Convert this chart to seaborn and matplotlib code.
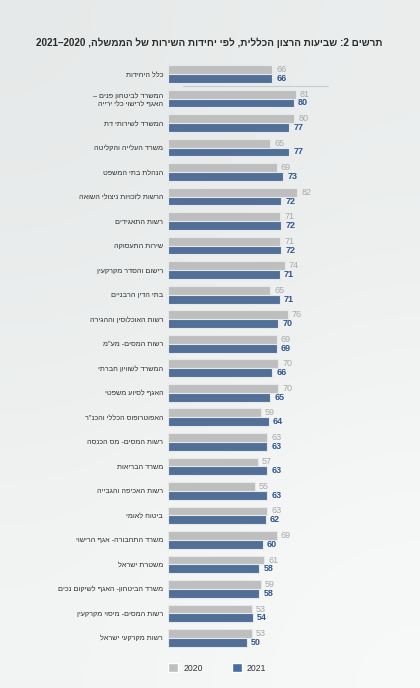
import re
import numpy as np
import seaborn as sns
import matplotlib.pyplot as plt
import pandas as pd
from matplotlib.patches import Patch
from matplotlib.colors import LinearSegmentedColormap

# Data
units = [
    "כלל היחידות",
    "המשרד לביטחון פנים –\nהאגף לרישוי כלי ירייה",
    "המשרד לשירותי דת",
    "משרד העלייה והקליטה",
    "הנהלת בתי המשפט",
    "הרשות לזכויות ניצולי השואה",
    "רשות התאגידים",
    "שירות התעסוקה",
    "רישום והסדר מקרקעין",
    "בתי הדין הרבניים",
    "רשות האוכלוסין וההגירה",
    "רשות המסים- מע\"מ",
    "המשרד לשוויון חברתי",
    "האגף לסיוע משפטי",
    "האפוטרופוס הכללי והכנ\"ר",
    "רשות המסים- מס הכנסה",
    "משרד הבריאות",
    "רשות האכיפה והגבייה",
    "ביטוח לאומי",
    "משרד התחבורה- אגף הרישוי",
    "משטרת ישראל",
    "משרד הביטחון- האגף לשיקום נכים",
    "רשות המסים- מיסוי מקרקעין",
    "רשות מקרקעי ישראל",
]
score_2020 = [66, 81, 80, 65, 69, 82, 71, 71, 74, 65, 76, 69, 70, 70, 59, 63, 57, 55, 63, 69, 61, 59, 53, 53]
score_2021 = [66, 80, 77, 77, 73, 72, 72, 72, 71, 71, 70, 69, 66, 65, 64, 63, 63, 63, 62, 60, 58, 58, 54, 50]
years = ["2020", "2021"]
title = "תרשים 2: שביעות הרצון הכללית, לפי יחידות השירות של הממשלה, 2020–2021"


def rtl(s):
    # matplotlib has no bidi support: flip each line, keep numbers in order
    out = []
    for line in s.split("\n"):
        r = line[::-1]
        out.append(re.sub(r"\d+", lambda m: m.group(0)[::-1], r))
    return "\n".join(out)


labels = [rtl(u) for u in units]
df = pd.DataFrame({
    "unit": labels * 2,
    "year": [years[0]] * len(units) + [years[1]] * len(units),
    "score": score_2020 + score_2021,
})

gray = "#bebebe"
blue = "#466da4"
bg = "#eef0f0"

sns.set_style("white")
plt.rcParams["font.family"] = ["Liberation Sans", "DejaVu Sans"]

fig = plt.figure(figsize=(4.2, 6.88), dpi=100, facecolor=bg)

# soft background gradient, darker at the top
bgax = fig.add_axes([0, 0, 1, 1], zorder=0)
bg_cmap = LinearSegmentedColormap.from_list("bg", ["#e6e9e9", "#eef0f0", "#f8f9f9"])
bgax.imshow(np.array([[0.0, 0.3], [0.75, 1.0]]), cmap=bg_cmap, vmin=0, vmax=1,
            interpolation="bicubic", aspect="auto", extent=[0, 1, 0, 1])
bgax.set_axis_off()

ax = fig.add_axes([0.4, 1 - 650.25 / 688, 0.55, (650.25 - 61.75) / 688], zorder=1)
ax.patch.set_alpha(0)

sns.barplot(data=df, y="unit", x="score", hue="year", order=labels,
            palette=[gray, blue], orient="h", width=0.72, ax=ax,
            edgecolor="#e6e9ea", linewidth=0.8, legend=False)

ax.bar_label(ax.containers[0], padding=3, fontsize=6.5, color="#a8a8a8")
ax.bar_label(ax.containers[1], padding=3, fontsize=6.5, color="#2f5690", fontweight="bold")

ax.set_xlim(0, 231 / 1.576)
ax.set_ylim(len(units) - 0.5, -0.5)
ax.set_xlabel("")
ax.set_ylabel("")
ax.set_xticks([])
ax.tick_params(axis="y", length=0, pad=3.5, labelsize=5.2, labelcolor="#2e2e2e")
for t in ax.get_yticklabels():
    t.set_multialignment("right")
sns.despine(ax=ax, left=True, bottom=True)

# separator under the total row
ax.plot([9.5, 101.5], [0.5, 0.5], color="#c9cccd", lw=0.8, clip_on=False)

ttl = fig.text(382 / 420, 1 - 43 / 688, rtl(title), ha="right", va="center",
               fontsize=8.5, fontweight="bold", color="#2a2a2a", zorder=2)
# shrink the title to span the same width as the reference (~342 px)
fig.canvas.draw()
w = ttl.get_window_extent().width
ttl.set_fontsize(8.5 * 342 / w)

handles = [Patch(facecolor=gray, label=years[0]), Patch(facecolor=blue, label=years[1])]
leg = fig.legend(handles=handles, loc="center left", bbox_to_anchor=(168 / 420, 1 - 668 / 688),
                 ncol=2, frameon=False, fontsize=6.2, handlelength=1.15, handleheight=1.15,
                 handletextpad=0.6, columnspacing=3.4, borderpad=0, borderaxespad=0,
                 labelcolor="#333333")
leg.set_zorder(2)

plt.savefig("out.png", dpi=100, facecolor=bg)
